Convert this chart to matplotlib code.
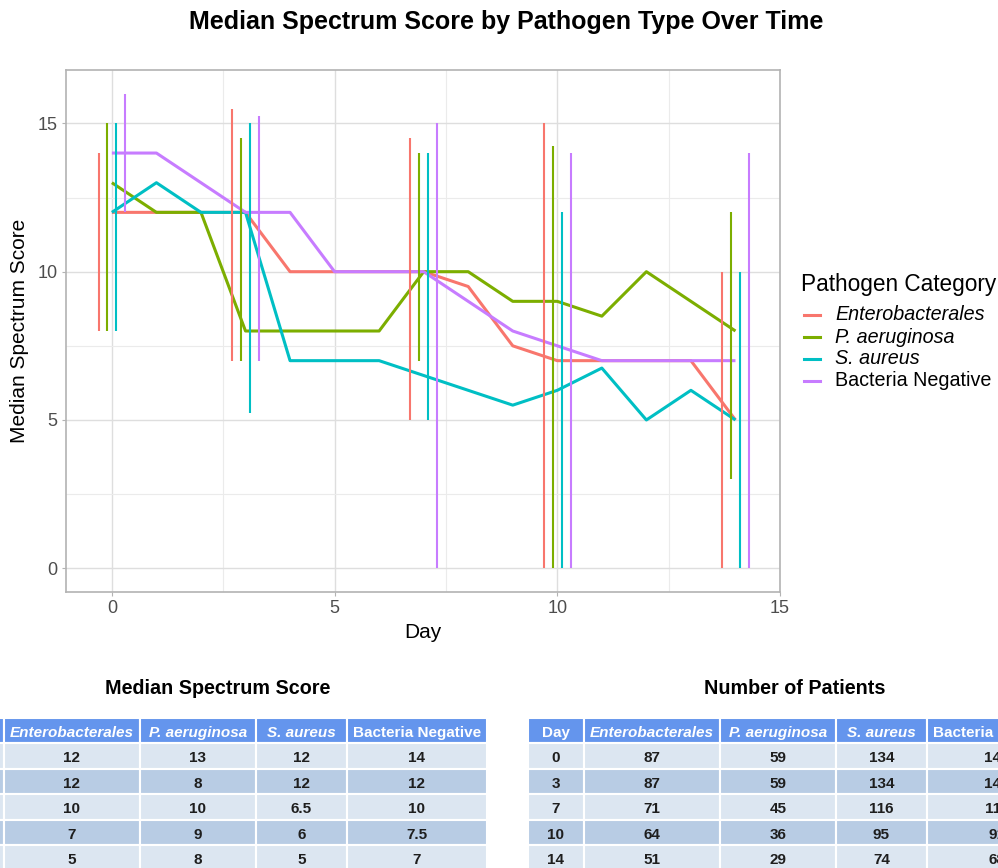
import matplotlib
matplotlib.use("Agg")
import matplotlib.pyplot as plt
from matplotlib.patches import Rectangle
import numpy as np

plt.rcParams['font.family'] = ['Liberation Sans', 'DejaVu Sans']

# ---------------- data ----------------
categories = ["Enterobacterales", "P. aeruginosa", "S. aureus", "Bacteria Negative"]
italic_cat = [True, True, True, False]
colors = ["#F8766D", "#7CAE00", "#00BFC4", "#C77CFF"]

days = list(range(15))
ent_median = [12, 12, 12, 12, 10, 10, 10, 10, 9.5, 7.5, 7, 7, 7, 7, 5]
paer_median = [13, 12, 12, 8, 8, 8, 8, 10, 10, 9, 9, 8.5, 10, 9, 8]
saur_median = [12, 13, 12, 12, 7, 7, 7, 6.5, 6, 5.5, 6, 6.75, 5, 6, 5]
bneg_median = [14, 14, 13, 12, 12, 10, 10, 10, 9, 8, 7.5, 7, 7, 7, 7]

range_days = [0, 3, 7, 10, 14]
ent_lo = [8, 7, 5, 0, 0]
ent_hi = [14, 15.5, 14.5, 15, 10]
paer_lo = [8, 7, 7, 0, 3]
paer_hi = [15, 14.5, 14, 14.25, 12]
saur_lo = [8, 5.25, 5, 0, 0]
saur_hi = [15, 15, 14, 12, 10]
bneg_lo = [12, 7, 0, 0, 0]
bneg_hi = [16, 15.25, 15, 14, 14]

table_days = ["0", "3", "7", "10", "14"]
tab_median_ent = ["12", "12", "10", "7", "5"]
tab_median_paer = ["13", "8", "10", "9", "8"]
tab_median_saur = ["12", "12", "6.5", "6", "5"]
tab_median_bneg = ["14", "12", "10", "7.5", "7"]
tab_n_ent = ["87", "87", "71", "64", "51"]
tab_n_paer = ["59", "59", "45", "36", "29"]
tab_n_saur = ["134", "134", "116", "95", "74"]
tab_n_bneg = ["140", "140", "112", "91", "68"]

medians = [ent_median, paer_median, saur_median, bneg_median]
lows = [ent_lo, paer_lo, saur_lo, bneg_lo]
highs = [ent_hi, paer_hi, saur_hi, bneg_hi]

# ---------------- figure ----------------
W, H = 998, 868
fig = plt.figure(figsize=(W / 100, H / 100), dpi=100)

def fx(px):
    return px / W

def fy(py):
    return 1 - py / H

ax = fig.add_axes([fx(66), fy(592), fx(780) - fx(66), fy(70) - fy(592)])

dodge = [-0.3, -0.1, 0.1, 0.3]
for i in range(4):
    ax.plot(days, medians[i], color=colors[i], lw=2.2, zorder=3, solid_capstyle='butt')
for i in range(4):
    xs = np.array(range_days) + dodge[i]
    ax.vlines(xs, lows[i], highs[i], color=colors[i], lw=1.5, zorder=4)

ax.set_xlim(-1.03, 15.0)
ax.set_ylim(-0.8, 16.8)
ax.set_xticks([0, 5, 10, 15])
ax.set_yticks([0, 5, 10, 15])
ax.set_xticks([2.5, 7.5, 12.5], minor=True)
ax.set_yticks([2.5, 7.5, 12.5], minor=True)
ax.grid(which='major', color='#DEDEDE', lw=1.0)
ax.grid(which='minor', color='#EBEBEB', lw=0.8)
ax.set_axisbelow(True)
for s in ax.spines.values():
    s.set_color('#B3B3B3')
    s.set_linewidth(1.2)
ax.tick_params(which='major', length=3, color='#B3B3B3', labelsize=13, labelcolor='#4D4D4D', pad=3)
ax.tick_params(which='minor', length=0)
ax.set_xlabel("Day", fontsize=15, labelpad=4)
ax.set_ylabel("Median Spectrum Score", fontsize=15, labelpad=6)

fig.text(fx(506), fy(22), "Median Spectrum Score by Pathogen Type Over Time",
         ha='center', va='center', fontsize=18, fontweight='bold')

# legend
fig.text(fx(801), fy(284), "Pathogen Category", ha='left', va='center', fontsize=16.3)
for i, cat in enumerate(categories):
    yy = 315 + 22 * i
    fig.add_artist(plt.Line2D([fx(804), fx(820)], [fy(yy), fy(yy)], color=colors[i], lw=2.2))
    fig.text(fx(835), fy(yy), cat, ha='left', va='center', fontsize=14.2,
             fontstyle='italic' if italic_cat[i] else 'normal')

# ---------------- tables ----------------
tax = fig.add_axes([0, 0, 1, fy(650)])
tax.set_xlim(0, W)
tax.set_ylim(H, 650)
tax.axis('off')

col_w = [56, 136, 116, 91, 140]
header_h = 25
row_h = 25.5
header_col = "#6495ED"
row_cols = ["#DCE6F1", "#B8CCE4"]
headers = ["Day"] + categories
hdr_italic = [False] + italic_cat

def draw_table(x0, y0, cols, title, title_x):
    tax.text(title_x, 688, title, ha='center', va='center', fontsize=14.2,
             fontweight='bold', clip_on=True)
    x = x0
    for j, w in enumerate(col_w):
        visible = x + w / 2 > 0
        tax.add_patch(Rectangle((x, y0), w, header_h, facecolor=header_col,
                                edgecolor='white', lw=1.5))
        if visible:
            tax.text(x + w / 2, y0 + header_h / 2 + 1, headers[j], ha='center',
                     va='center_baseline', color='white', fontsize=11, fontweight='bold',
                     fontstyle='italic' if hdr_italic[j] else 'normal', clip_on=True)
        for r in range(5):
            yy = y0 + header_h + r * row_h
            tax.add_patch(Rectangle((x, yy), w, row_h, facecolor=row_cols[r % 2],
                                    edgecolor='white', lw=1.5))
            if visible:
                tax.text(x + w / 2, yy + row_h / 2 + 1, cols[j][r], ha='center',
                         va='center_baseline', color='#1E1E1E', fontsize=11,
                         fontweight='bold', clip_on=True)
        x += w

draw_table(-52, 718, [table_days, tab_median_ent, tab_median_paer, tab_median_saur, tab_median_bneg],
           "Median Spectrum Score", 218)
draw_table(528, 718, [table_days, tab_n_ent, tab_n_paer, tab_n_saur, tab_n_bneg],
           "Number of Patients", 795)

fig.savefig("out.png", dpi=100)
